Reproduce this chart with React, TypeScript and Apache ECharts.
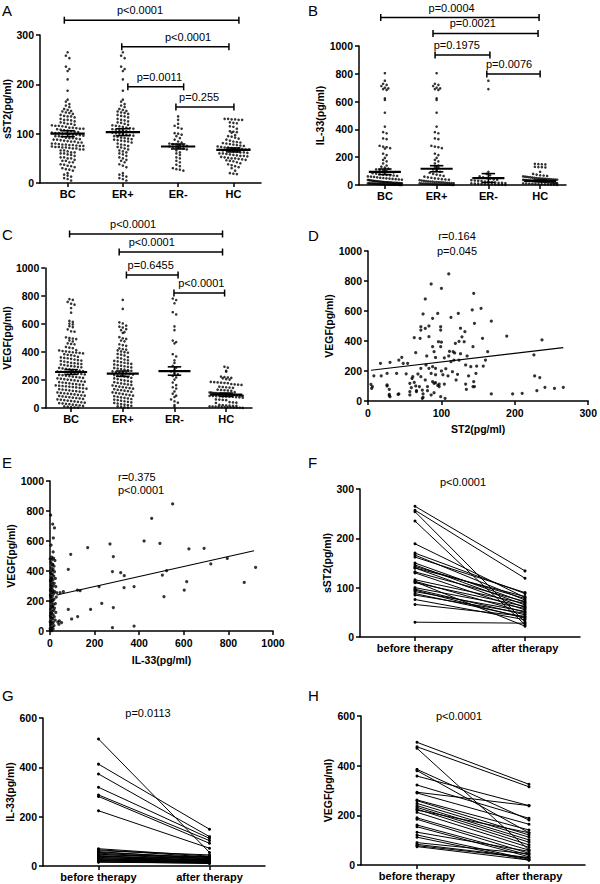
import React, { useEffect, useRef } from "react";
import * as echarts from "echarts";

const FONT = "'Liberation Sans', Arial, Helvetica, sans-serif";

const GROUPS = ["BC", "ER+", "ER-", "HC"];
const THERAPY = ["before therapy", "after therapy"];

// ---------- Panel A: sST2 ----------
const A_BC = [265, 258, 253, 236, 231, 227, 210, 187, 169, 165, 160, 157, 154, 150, 148, 146, 145, 143, 142, 140, 138, 136, 135, 135, 133, 130, 128, 128, 127, 125, 123, 122, 120, 120, 118, 117, 116, 116, 115, 114, 112, 112, 111, 110, 110, 109, 108, 107, 106, 105, 104, 103, 102, 101, 101, 100, 100, 99, 98, 98, 97, 96, 95, 95, 94, 92, 91, 91, 90, 89, 88, 88, 87, 86, 85, 84, 84, 82, 82, 80, 80, 79, 78, 78, 77, 77, 76, 75, 75, 74, 73, 73, 72, 72, 71, 70, 70, 68, 68, 66, 66, 64, 62, 62, 60, 60, 58, 57, 55, 52, 52, 50, 50, 47, 45, 45, 42, 42, 38, 37, 35, 34, 32, 30, 28, 27, 25, 20, 17, 15, 13, 10, 8, 5];
const A_ERPOS = [265, 258, 253, 236, 231, 227, 210, 187, 169, 165, 160, 157, 154, 150, 148, 146, 145, 143, 142, 140, 138, 136, 135, 133, 130, 128, 127, 125, 123, 122, 120, 118, 117, 116, 115, 114, 112, 111, 110, 109, 108, 107, 106, 105, 104, 103, 102, 101, 100, 99, 98, 97, 96, 95, 94, 92, 91, 90, 89, 88, 87, 86, 85, 84, 82, 80, 78, 77, 75, 73, 72, 70, 68, 66, 64, 62, 60, 58, 55, 52, 50, 47, 45, 42, 38, 35, 32, 20, 17, 15, 13, 10, 8, 5];
const A_ERNEG = [135, 128, 120, 116, 112, 110, 101, 100, 98, 95, 91, 88, 84, 82, 80, 79, 78, 77, 76, 75, 74, 73, 72, 71, 70, 68, 66, 62, 60, 57, 52, 50, 45, 42, 37, 34, 30, 28, 27, 25];
const A_HC = [130, 130, 129, 129, 128, 128, 123, 122, 121, 115, 114, 110, 105, 104, 103, 102, 97, 95, 94, 92, 90, 88, 86, 84, 83, 82, 81, 80, 79, 78, 77, 76, 75, 74, 73, 72, 72, 71, 70, 70, 69, 68, 68, 67, 66, 66, 65, 64, 63, 62, 62, 61, 60, 60, 59, 58, 57, 56, 55, 55, 54, 53, 52, 51, 50, 50, 49, 48, 47, 46, 45, 44, 42, 40, 38, 36, 34, 32, 30, 25, 20, 19, 18];
const A_MEAN = [100, 103, 74, 67];
const A_SEM = [6, 7, 5, 4];
const A_BR_FROM = [-0.06, 0.98, 1.09, 1.96];
const A_BR_TO = [3.1, 2.92, 2.1, 3.01];
const A_BR_Y = [330, 276, 195, 154];
const A_BR_LX = [1.31, 2.18, 1.66, 2.38];
const A_BR_TEXT = ["p<0.0001", "p<0.0001", "p=0.0011", "p=0.255"];

// ---------- Panel B: IL-33 ----------
const B_BC = [804, 750, 728, 720, 712, 700, 695, 690, 684, 624, 612, 520, 420, 380, 372, 335, 330, 282, 276, 272, 265, 262, 225, 215, 195, 180, 170, 155, 140, 132, 125, 118, 112, 108, 104, 100, 95, 90, 85, 82, 78, 75, 72, 70, 68, 65, 62, 60, 58, 55, 52, 50, 48, 46, 44, 42, 40, 38, 36, 35, 34, 32, 30, 29, 28, 27, 26, 25, 24, 23, 22, 21, 20, 20, 19, 18, 18, 17, 16, 16, 15, 15, 14, 14, 13, 13, 12, 12, 11, 11, 10, 10, 9, 9, 8, 8, 7, 7, 6, 6, 5, 5, 5, 4, 4, 4, 3, 3, 3, 2, 2, 2, 1, 1, 1];
const B_ERPOS = [804, 728, 720, 712, 700, 695, 690, 684, 624, 612, 520, 420, 380, 372, 335, 330, 282, 276, 272, 265, 225, 215, 195, 180, 170, 155, 140, 132, 125, 112, 104, 95, 88, 80, 75, 70, 65, 60, 55, 52, 48, 45, 42, 40, 38, 35, 32, 30, 28, 26, 25, 24, 22, 21, 20, 19, 18, 17, 16, 15, 14, 13, 12, 11, 10, 10, 9, 8, 8, 7, 6, 6, 5, 5, 4, 4, 3, 3, 2, 2, 1, 1];
const B_ERNEG = [750, 690, 95, 80, 70, 62, 55, 50, 45, 40, 38, 35, 32, 30, 28, 25, 22, 20, 18, 16, 15, 14, 12, 10, 9, 8, 7, 6, 5, 4, 3, 2, 1];
const B_HC = [152, 150, 149, 148, 131, 129, 128, 126, 95, 80, 75, 70, 68, 65, 62, 60, 58, 56, 55, 53, 52, 50, 48, 47, 46, 45, 44, 43, 42, 41, 40, 39, 38, 37, 36, 35, 34, 33, 32, 31, 30, 29, 28, 27, 26, 25, 24, 23, 22, 21, 20, 19, 18, 17, 16, 15, 14, 13, 12, 11, 10, 9, 8, 7, 6, 5, 4, 3, 2, 1];
const B_MEAN = [95, 117, 50, 30];
const B_SEM = [20, 22, 32, 6];
const B_BR_FROM = [-0.08, 0.93, 0.97, 1.97];
const B_BR_TO = [2.98, 2.96, 2.03, 3.0];
const B_BR_Y = [1205, 1090, 935, 799];
const B_BR_LX = [1.29, 1.7, 1.39, 2.4];
const B_BR_TEXT = ["p=0.0004", "p=0.0021", "p=0.1975", "p=0.0076"];

// ---------- Panel C: VEGF ----------
const C_BC = [778, 772, 758, 745, 738, 714, 681, 622, 615, 603, 597, 584, 578, 562, 548, 545, 505, 500, 496, 492, 483, 476, 462, 458, 455, 436, 431, 427, 414, 411, 407, 404, 401, 398, 396, 393, 390, 384, 380, 377, 373, 366, 362, 358, 355, 351, 346, 342, 339, 336, 332, 327, 323, 320, 317, 314, 311, 307, 303, 300, 297, 294, 291, 287, 283, 280, 276, 273, 270, 267, 264, 261, 259, 257, 255, 252, 250, 246, 243, 240, 237, 234, 231, 228, 224, 221, 218, 215, 212, 209, 206, 203, 200, 197, 194, 191, 188, 185, 182, 179, 176, 173, 170, 167, 165, 162, 159, 157, 155, 152, 150, 147, 144, 141, 138, 135, 132, 129, 126, 123, 120, 117, 114, 111, 108, 105, 103, 100, 97, 94, 91, 88, 86, 83, 80, 77, 74, 71, 68, 65, 62, 59, 56, 53, 50, 47, 44, 41, 38, 35, 33, 30, 27, 24, 21, 18, 15, 12, 9, 6, 4, 2];
const C_ERPOS = [772, 708, 612, 604, 588, 581, 575, 563, 556, 542, 536, 506, 498, 493, 482, 476, 455, 449, 444, 426, 421, 417, 412, 404, 399, 395, 386, 381, 375, 364, 359, 354, 346, 341, 337, 333, 327, 323, 319, 315, 311, 306, 302, 298, 294, 290, 286, 282, 278, 274, 270, 266, 262, 258, 254, 250, 247, 243, 239, 235, 232, 229, 225, 220, 216, 212, 206, 201, 197, 193, 188, 184, 180, 176, 172, 168, 165, 161, 157, 153, 149, 146, 142, 138, 134, 130, 127, 124, 120, 116, 112, 108, 104, 100, 96, 92, 88, 84, 80, 76, 72, 68, 64, 60, 56, 52, 48, 44, 40, 36, 32, 28, 24, 20, 16, 12, 8, 5, 2];
const C_ERNEG = [782, 771, 748, 684, 668, 583, 556, 482, 471, 462, 384, 368, 341, 322, 301, 288, 271, 262, 248, 240, 229, 218, 203, 182, 163, 148, 139, 118, 102, 88, 79, 61, 48, 38, 21, 9];
const C_HC = [295, 288, 266, 260, 224, 221, 218, 215, 212, 206, 203, 187, 185, 183, 181, 179, 177, 171, 169, 167, 165, 152, 150, 148, 146, 144, 131, 129, 127, 125, 123, 113, 111, 110, 108, 107, 106, 105, 104, 102, 101, 100, 99, 98, 97, 96, 95, 94, 93, 92, 91, 90, 89, 88, 87, 86, 85, 84, 83, 82, 81, 80, 78, 76, 74, 62, 60, 58, 56, 42, 40, 38, 36, 22, 20, 18, 17, 16, 15, 12, 11, 10, 9, 8, 7, 6, 5, 4, 3, 2, 1];
const C_MEAN = [257, 245, 264, 95];
const C_SEM = [17, 19, 30, 12];
const C_BR_FROM = [-0.03, 0.93, 1.07, 1.99];
const C_BR_TO = [2.93, 2.93, 2.07, 2.97];
const C_BR_Y = [1243, 1114, 950, 821];
const C_BR_LX = [1.2, 1.56, 1.54, 2.52];
const C_BR_TEXT = ["p<0.0001", "p<0.0001", "p=0.6455", "p<0.0001"];

// ---------- Panel D: ST2 vs VEGF ----------
const D_POINTS = [[110, 847], [86, 780], [100, 751], [78, 680], [144, 718], [75, 580], [95, 584], [123, 584], [142, 607], [154, 618], [88, 551], [113, 558], [145, 518], [168, 533], [72, 495], [83, 500], [99, 495], [72, 473], [78, 484], [99, 473], [126, 485], [132, 462], [156, 418], [189, 433], [237, 407], [63, 422], [71, 418], [83, 429], [96, 395], [100, 392], [119, 384], [128, 428], [131, 395], [124, 397], [116, 329], [111, 331], [143, 362], [163, 329], [88, 362], [99, 362], [90, 329], [65, 322], [46, 291], [42, 273], [30, 258], [48, 251], [54, 251], [17, 251], [226, 307], [79, 240], [88, 229], [92, 218], [113, 262], [117, 273], [124, 273], [133, 240], [140, 229], [148, 233], [157, 233], [160, 273], [72, 218], [83, 218], [86, 184], [92, 175], [102, 175], [109, 167], [122, 178], [137, 167], [147, 184], [26, 184], [8, 168], [18, 168], [39, 184], [52, 181], [61, 162], [72, 162], [78, 140], [63, 124], [4, 111], [6, 96], [26, 107], [57, 118], [59, 89], [66, 69], [70, 96], [74, 73], [81, 96], [88, 129], [90, 118], [95, 104], [97, 96], [133, 113], [144, 129], [143, 96], [227, 167], [234, 156], [241, 91], [266, 91], [230, 69], [29, 44], [41, 44], [5, 84], [26, 100], [29, 78], [29, 36], [30, 29], [42, 47], [57, 62], [57, 40], [65, 100], [66, 62], [75, 47], [75, 24], [74, 18], [81, 69], [86, 40], [90, 55], [99, 29], [105, 18], [92, 122], [97, 113], [134, 78], [145, 96], [168, 47], [197, 47], [210, 51], [254, 84], [104, 113], [104, 288], [110, 300], [118, 320], [126, 315], [135, 300], [80, 300], [92, 290], [60, 150], [68, 180], [100, 200], [106, 215], [115, 195], [120, 140]];
const D_FIT = [[4, 205], [266, 356]];

// ---------- Panel E: IL-33 vs VEGF ----------
const E_POINTS = [[3, 773], [12, 713], [20, 687], [15, 620], [5, 573], [14, 527], [8, 493], [16, 485], [10, 478], [22, 470], [4, 458], [12, 445], [18, 432], [6, 420], [14, 410], [9, 402], [20, 395], [3, 388], [11, 378], [17, 366], [7, 358], [24, 350], [13, 342], [2, 333], [10, 324], [19, 318], [6, 310], [15, 301], [26, 296], [9, 287], [4, 279], [13, 270], [21, 262], [8, 255], [16, 248], [2, 240], [11, 233], [28, 226], [6, 219], [18, 212], [13, 204], [3, 197], [9, 190], [24, 183], [15, 176], [7, 169], [12, 161], [20, 153], [4, 146], [17, 138], [10, 131], [26, 124], [6, 117], [14, 109], [2, 102], [19, 95], [8, 88], [12, 80], [23, 73], [5, 66], [15, 58], [9, 50], [3, 43], [18, 36], [11, 28], [6, 21], [14, 14], [2, 8], [8, 3], [30, 255], [35, 60], [40, 45], [1, 480], [5, 300], [7, 350], [3, 230], [9, 160], [4, 120], [1, 60], [6, 380], [2, 270], [8, 205], [5, 90], [1, 15], [10, 440], [12, 260], [3, 340], [93, 511], [82, 411], [169, 556], [269, 580], [284, 496], [280, 396], [317, 389], [333, 369], [332, 289], [377, 296], [220, 296], [123, 273], [135, 269], [45, 256], [60, 262], [82, 144], [182, 144], [232, 184], [284, 156], [97, 80], [124, 96], [42, 67], [52, 56], [280, 22], [377, 33], [456, 751], [550, 847], [422, 600], [493, 584], [623, 547], [691, 551], [721, 447], [795, 484], [922, 424], [523, 402], [504, 373], [613, 329], [602, 273], [871, 324], [511, 229]];
const E_FIT = [[30, 240], [915, 535]];

// ---------- Panels F, G, H: before / after therapy ----------
const F_BEFORE = [265, 257, 254, 235, 189, 170, 166, 162, 150, 146, 143, 140, 132, 130, 116, 113, 110, 100, 97, 92, 88, 85, 76, 66, 30, 112, 95, 140];
const F_AFTER = [134, 119, 30, 25, 80, 88, 75, 90, 70, 65, 78, 60, 72, 55, 68, 50, 62, 58, 45, 52, 40, 48, 35, 42, 28, 22, 38, 82];
const G_BEFORE = [515, 413, 373, 319, 288, 282, 224, 70, 66, 62, 58, 55, 52, 48, 45, 42, 40, 38, 35, 33, 30, 28, 26, 24, 22, 20, 18, 15];
const G_AFTER = [55, 149, 119, 112, 103, 92, 72, 40, 36, 45, 30, 34, 28, 25, 38, 22, 20, 32, 18, 26, 15, 24, 12, 20, 16, 14, 10, 12];
const H_BEFORE = [494, 476, 470, 385, 380, 358, 322, 293, 290, 262, 259, 248, 239, 232, 225, 221, 212, 190, 184, 161, 154, 132, 121, 112, 90, 83, 78, 74];
const H_AFTER = [325, 315, 60, 181, 130, 239, 188, 239, 164, 141, 121, 112, 101, 92, 81, 130, 71, 60, 47, 40, 33, 55, 23, 19, 45, 30, 28, 20];

// ---------- helpers ----------
const BLACK = "#000";
const lineStyle = { color: BLACK, width: 1.5 };
const plainNum = (v: number) => String(v);

function swarm(values: number[], gi: number, pxPerUnit: number, catPx: number) {
  const rowPx = 3.5, dotPx = 3.5, maxHalf = 17;
  const bins = new Map<number, number[]>();
  values.forEach((v) => {
    const b = Math.round((v * pxPerUnit) / rowPx);
    if (!bins.has(b)) bins.set(b, []);
    bins.get(b)!.push(v);
  });
  const out: number[][] = [];
  bins.forEach((vs) => {
    const n = vs.length;
    let step = dotPx;
    if (n > 1 && ((n - 1) * step) / 2 > maxHalf) step = (2 * maxHalf) / (n - 1);
    vs.forEach((v, k) => {
      const off = (k - (n - 1) / 2) * step;
      out.push([gi + off / catPx, v]);
    });
  });
  return out;
}

function yAxisCfg(gridIndex: number, max: number, interval: number, name: string, nameGap: number) {
  return {
    type: "value", gridIndex, min: 0, max, interval, name, nameLocation: "middle", nameGap,
    nameTextStyle: { color: BLACK, fontWeight: "bold", fontSize: 10.5, fontFamily: FONT },
    axisLine: { show: true, onZero: false, lineStyle },
    axisTick: { show: true, length: 4, lineStyle },
    axisLabel: { color: BLACK, fontWeight: "bold", fontSize: 10.5, fontFamily: FONT, margin: 6, formatter: plainNum },
    splitLine: { show: false },
  };
}

function catAxisCfg(gridIndex: number, data: string[]) {
  return {
    type: "category", gridIndex, data, boundaryGap: true,
    axisLine: { show: true, onZero: false, lineStyle },
    axisTick: { show: true, alignWithLabel: true, length: 4, lineStyle },
    axisLabel: { color: BLACK, fontWeight: "bold", fontSize: 11, fontFamily: FONT, margin: 5, interval: 0 },
    splitLine: { show: false },
  };
}

function valXAxisCfg(gridIndex: number, max: number, interval: number, name: string, nameGap: number) {
  return {
    type: "value", gridIndex, min: 0, max, interval, name, nameLocation: "middle", nameGap,
    nameTextStyle: { color: BLACK, fontWeight: "bold", fontSize: 10.5, fontFamily: FONT },
    axisLine: { show: true, onZero: false, lineStyle },
    axisTick: { show: true, length: 4, lineStyle },
    axisLabel: { color: BLACK, fontWeight: "bold", fontSize: 10.5, fontFamily: FONT, margin: 6, formatter: plainNum },
    splitLine: { show: false },
  };
}

const renderMeanSem = (params: any, api: any) => {
  const gi = api.value(0), m = api.value(1), s = api.value(2);
  const c = api.coord([gi, m]);
  const t = api.coord([gi, m + s]);
  const b = api.coord([gi, m - s]);
  const unit = api.size([1, 0])[0];
  const hw = unit * 0.31, cw = unit * 0.13;
  const st = { stroke: BLACK, lineWidth: 1.6 };
  return {
    type: "group",
    children: [
      { type: "line", shape: { x1: c[0] - hw, y1: c[1], x2: c[0] + hw, y2: c[1] }, style: { stroke: BLACK, lineWidth: 2.2 } },
      { type: "line", shape: { x1: c[0], y1: t[1], x2: c[0], y2: b[1] }, style: st },
      { type: "line", shape: { x1: c[0] - cw, y1: t[1], x2: c[0] + cw, y2: t[1] }, style: st },
      { type: "line", shape: { x1: c[0] - cw, y1: b[1], x2: c[0] + cw, y2: b[1] }, style: st },
    ],
  };
};

const makeBracketRender = (labels: string[]) => (params: any, api: any) => {
  const y = api.value(2);
  const a = api.coord([api.value(0), y]);
  const b = api.coord([api.value(1), y]);
  const lx = api.coord([api.value(3), y])[0];
  const st = { stroke: BLACK, lineWidth: 1.5 };
  return {
    type: "group",
    children: [
      { type: "line", shape: { x1: a[0], y1: a[1], x2: b[0], y2: b[1] }, style: st },
      { type: "line", shape: { x1: a[0], y1: a[1] - 3.5, x2: a[0], y2: a[1] + 3.5 }, style: st },
      { type: "line", shape: { x1: b[0], y1: b[1] - 3.5, x2: b[0], y2: b[1] + 3.5 }, style: st },
      {
        type: "text", x: lx, y: a[1] - 10,
        style: {
          text: labels[params.dataIndex], fill: BLACK, fontSize: 11, fontFamily: FONT,
          align: "center", verticalAlign: "middle", textAlign: "center", textVerticalAlign: "middle",
        },
      },
    ],
  };
};

function dotPanel(
  groups: number[][], means: number[], sems: number[],
  brFrom: number[], brTo: number[], brY: number[], brLx: number[], brText: string[],
  xValIdx: number, yIdx: number, gridH: number, gridW: number, yMax: number
) {
  const ppu = gridH / yMax;
  const catPx = gridW / 4;
  const pts: number[][] = [];
  groups.forEach((g, gi) => swarm(g, gi, ppu, catPx).forEach((p) => pts.push(p)));
  return [
    {
      type: "scatter", xAxisIndex: xValIdx, yAxisIndex: yIdx, data: pts,
      symbol: "circle", symbolSize: 2.6, itemStyle: { color: BLACK }, silent: true,
    },
    {
      type: "custom", xAxisIndex: xValIdx, yAxisIndex: yIdx, clip: false,
      data: means.map((m, i) => [i, m, sems[i]]), renderItem: renderMeanSem, silent: true, z: 5,
    },
    {
      type: "custom", xAxisIndex: xValIdx, yAxisIndex: yIdx, clip: false,
      data: brFrom.map((f, i) => [f, brTo[i], brY[i], brLx[i]]), renderItem: makeBracketRender(brText), silent: true,
    },
  ];
}

function pairSeries(before: number[], after: number[], xIdx: number, yIdx: number) {
  return before.map((b, i) => ({
    type: "line", xAxisIndex: xIdx, yAxisIndex: yIdx, data: [b, after[i]],
    symbol: "circle", symbolSize: 3, showSymbol: true,
    lineStyle: { color: BLACK, width: 1 }, itemStyle: { color: BLACK }, silent: true,
  }));
}

function txt(text: string, x: number, y: number, size: number, align: string) {
  return {
    type: "text", x, y,
    style: {
      text, fill: BLACK, fontSize: size, fontFamily: FONT,
      textAlign: align, textVerticalAlign: "middle", align, verticalAlign: "middle",
    },
  };
}

export default function App() {
  const ref = useRef<HTMLDivElement>(null);
  useEffect(() => {
    if (!ref.current) return;
    const chart = echarts.init(ref.current, null, { renderer: "svg" });
    const grids = [
      { left: 40, top: 35, width: 221, height: 148 },
      { left: 359, top: 46, width: 207, height: 139 },
      { left: 40, top: 268, width: 212, height: 140 },
      { left: 368, top: 251, width: 223, height: 150 },
      { left: 50, top: 481, width: 223, height: 150 },
      { left: 360, top: 489, width: 220, height: 148 },
      { left: 43, top: 718, width: 222, height: 148 },
      { left: 361, top: 716, width: 224, height: 149 },
    ];
    const hiddenVal = (gridIndex: number) => ({
      type: "value", gridIndex, min: -0.5, max: 3.5, show: false,
      axisLine: { show: false, onZero: false }, axisTick: { show: false }, axisLabel: { show: false }, splitLine: { show: false },
    });
    const xAxis = [
      catAxisCfg(0, GROUPS), hiddenVal(0),
      catAxisCfg(1, GROUPS), hiddenVal(1),
      catAxisCfg(2, GROUPS), hiddenVal(2),
      valXAxisCfg(3, 300, 100, "ST2(pg/ml)", 22),
      valXAxisCfg(4, 1000, 200, "IL-33(pg/ml)", 23),
      catAxisCfg(5, THERAPY),
      catAxisCfg(6, THERAPY),
      catAxisCfg(7, THERAPY),
    ];
    const yAxis = [
      yAxisCfg(0, 300, 100, "sST2(pg/ml)", 22),
      yAxisCfg(1, 1000, 200, "IL-33(pg/ml)", 27),
      yAxisCfg(2, 1000, 200, "VEGF(pg/ml)", 25),
      yAxisCfg(3, 1000, 200, "VEGF(pg/ml)", 33),
      yAxisCfg(4, 1000, 200, "VEGF(pg/ml)", 33),
      yAxisCfg(5, 300, 100, "sST2(pg/ml)", 21),
      yAxisCfg(6, 600, 200, "IL-33(pg/ml)", 25),
      yAxisCfg(7, 600, 200, "VEGF(pg/ml)", 24),
    ];
    const series: any[] = [
      ...dotPanel([A_BC, A_ERPOS, A_ERNEG, A_HC], A_MEAN, A_SEM, A_BR_FROM, A_BR_TO, A_BR_Y, A_BR_LX, A_BR_TEXT, 1, 0, 148, 221, 300),
      ...dotPanel([B_BC, B_ERPOS, B_ERNEG, B_HC], B_MEAN, B_SEM, B_BR_FROM, B_BR_TO, B_BR_Y, B_BR_LX, B_BR_TEXT, 3, 1, 139, 207, 1000),
      ...dotPanel([C_BC, C_ERPOS, C_ERNEG, C_HC], C_MEAN, C_SEM, C_BR_FROM, C_BR_TO, C_BR_Y, C_BR_LX, C_BR_TEXT, 5, 2, 140, 212, 1000),
      {
        type: "scatter", xAxisIndex: 6, yAxisIndex: 3, data: D_POINTS,
        symbol: "circle", symbolSize: 3.2, itemStyle: { color: BLACK }, silent: true,
      },
      {
        type: "line", xAxisIndex: 6, yAxisIndex: 3, data: D_FIT, symbol: "none",
        lineStyle: { color: BLACK, width: 1.2 }, silent: true,
      },
      {
        type: "scatter", xAxisIndex: 7, yAxisIndex: 4, data: E_POINTS,
        symbol: "circle", symbolSize: 3.2, itemStyle: { color: BLACK }, silent: true,
      },
      {
        type: "line", xAxisIndex: 7, yAxisIndex: 4, data: E_FIT, symbol: "none",
        lineStyle: { color: BLACK, width: 1.2 }, silent: true,
      },
      ...pairSeries(F_BEFORE, F_AFTER, 8, 5),
      ...pairSeries(G_BEFORE, G_AFTER, 9, 6),
      ...pairSeries(H_BEFORE, H_AFTER, 10, 7),
    ];
    const graphic = [
      txt("A", 2, 10, 15, "left"),
      txt("B", 308, 10, 15, "left"),
      txt("C", 2, 234, 15, "left"),
      txt("D", 308, 235, 15, "left"),
      txt("E", 2, 462, 15, "left"),
      txt("F", 308, 462, 15, "left"),
      txt("G", 2, 695, 15, "left"),
      txt("H", 308, 695, 15, "left"),
      txt("r=0.164", 457, 236, 11, "center"),
      txt("p=0.045", 457, 251, 11, "center"),
      txt("r=0.375", 118, 477, 11, "left"),
      txt("p<0.0001", 118, 490, 11, "left"),
      txt("p<0.0001", 463, 482, 11, "center"),
      txt("p=0.0113", 148, 713, 11, "center"),
      txt("p<0.0001", 459, 716, 11, "center"),
    ];
    chart.setOption({
      animation: false,
      backgroundColor: "#fff",
      grid: grids,
      xAxis,
      yAxis,
      series,
      graphic,
    });
    return () => chart.dispose();
  }, []);
  return <div ref={ref} style={{ position: "absolute", left: 0, top: 0, width: 600, height: 884 }} />;
}
